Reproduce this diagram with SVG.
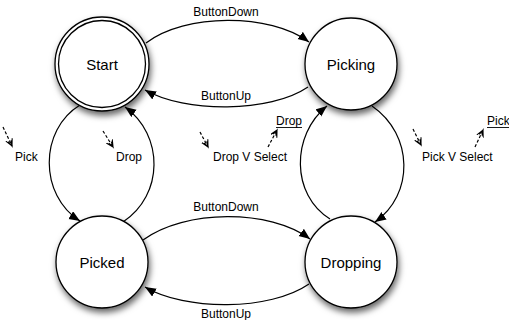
<svg xmlns="http://www.w3.org/2000/svg" width="509" height="320" viewBox="0 0 509 320">
<defs>
<filter id="sh" x="-30%" y="-30%" width="160%" height="170%">
<feDropShadow dx="1.5" dy="4" stdDeviation="3" flood-color="#000" flood-opacity="0.6"/>
</filter>
<marker id="ah" markerUnits="userSpaceOnUse" markerWidth="12" markerHeight="10" refX="11" refY="4.5" orient="auto">
<path d="M0,0 L11,4.5 L0,9 Z" fill="#000"/>
</marker>
<marker id="oa" markerUnits="userSpaceOnUse" markerWidth="10" markerHeight="10" refX="7" refY="4" orient="auto">
<path d="M0,0.5 L7,4 L0,7.5 M1.5,2.5 L7,4 L1.5,5.5" fill="none" stroke="#000" stroke-width="1.1"/>
</marker>
<style>
.node{fill:#fff;stroke:#000;stroke-width:1.3}
.nl{font-family:"Liberation Sans",Arial,sans-serif;font-size:15px;text-anchor:middle;fill:#000}
.el{font-family:"Liberation Sans",Arial,sans-serif;font-size:12px;fill:#000}
.mid{text-anchor:middle}
.edge{fill:none;stroke:#000;stroke-width:1.2;marker-end:url(#ah)}
.hint{fill:none;stroke:#000;stroke-width:1.2;stroke-dasharray:3,2;marker-end:url(#oa)}
</style>
</defs>
<rect width="509" height="320" fill="#fff"/>

<g id="connectors">
<path class="edge" d="M146,43 C185,13 270,13 309,42"/>
<path class="edge" d="M308,87 C270,113 185,113 145,90"/>
<path class="edge" d="M143,240 C185,209 270,209 310,239"/>
<path class="edge" d="M309,284 C270,311 185,311 145,287"/>
<path class="edge" d="M80,105 C39,130 39,195 80,221"/>
<path class="edge" d="M123,222 C164,195 164,135 125,107"/>
<path class="edge" d="M372,106 C414,135 414,195 375,222"/>
<path class="edge" d="M330,219 C291,195 291,135 327,106"/>
</g>

<g id="edge-labels">
<text class="el mid" x="226" y="16">ButtonDown</text>
<text class="el mid" x="226" y="100">ButtonUp</text>
<text class="el mid" x="226" y="211">ButtonDown</text>
<text class="el mid" x="226" y="318">ButtonUp</text>
</g>

<g id="Start">
<circle class="node" cx="102" cy="64" r="47" filter="url(#sh)"/>
<circle cx="102" cy="64" r="43.5" fill="none" stroke="#000" stroke-width="1.3"/>
<text class="nl" x="102" y="69.5">Start</text>
</g>
<g id="Picking">
<circle class="node" cx="351" cy="64" r="46" filter="url(#sh)"/>
<text class="nl" x="351" y="69.5">Picking</text>
</g>
<g id="Picked">
<circle class="node" cx="102" cy="262" r="46" filter="url(#sh)"/>
<text class="nl" x="102" y="267.5">Picked</text>
</g>
<g id="Dropping">
<circle class="node" cx="351" cy="262" r="46" filter="url(#sh)"/>
<text class="nl" x="351" y="267.5">Dropping</text>
</g>

<g id="notes">
<path class="hint" d="M3,127 L12,146"/>
<text class="el" x="15" y="161">Pick</text>
<path class="hint" d="M103,131 L113,147"/>
<text class="el" x="116" y="161">Drop</text>
<path class="hint" d="M200,132 L208,147"/>
<text class="el" x="213" y="161">Drop V Select</text>
<path class="hint" d="M268,147 L277,130"/>
<text class="el" x="276" y="125">Drop</text>
<line x1="276" y1="127.5" x2="302" y2="127.5" stroke="#000" stroke-width="0.9"/>
<path class="hint" d="M413,129 L421,145"/>
<text class="el" x="422" y="161">Pick V Select</text>
<path class="hint" d="M475,147 L483,130"/>
<text class="el" x="487" y="125">Pick</text>
<line x1="487" y1="127.5" x2="509" y2="127.5" stroke="#000" stroke-width="0.9"/>
</g>
</svg>
